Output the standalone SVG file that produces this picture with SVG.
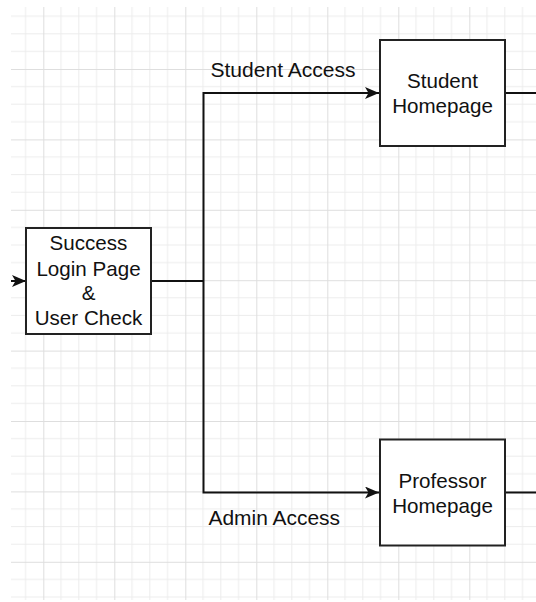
<svg xmlns="http://www.w3.org/2000/svg" width="536" height="602" viewBox="0 0 536 602">
<style>
.box{fill:#fff;stroke:#222;stroke-width:2}
.t{font-family:"Liberation Sans",Arial,sans-serif;font-size:20.6px;fill:#111;text-anchor:middle}
.lbl{font-family:"Liberation Sans",Arial,sans-serif;font-size:20.5px;fill:#111}
.c{fill:none;stroke:#111;stroke-width:2}
.mi{stroke:#ececec;stroke-width:1}
.ma{stroke:#dedede;stroke-width:1}
</style>
<defs>
<pattern id="grid" patternUnits="userSpaceOnUse" x="43.3" y="69" width="71" height="70.4">
<line class="mi" x1="17.75" y1="0" x2="17.75" y2="70.4"/>
<line class="mi" x1="35.5" y1="0" x2="35.5" y2="70.4"/>
<line class="mi" x1="53.25" y1="0" x2="53.25" y2="70.4"/>
<line class="mi" x1="0" y1="17.6" x2="71" y2="17.6"/>
<line class="mi" x1="0" y1="35.2" x2="71" y2="35.2"/>
<line class="mi" x1="0" y1="52.8" x2="71" y2="52.8"/>
<line class="ma" x1="0.5" y1="0" x2="0.5" y2="70.4"/>
<line class="ma" x1="0" y1="0.5" x2="71" y2="0.5"/>
</pattern>
<marker id="arr" viewBox="0 0 14 12" refX="14" refY="6" markerWidth="14" markerHeight="12" markerUnits="userSpaceOnUse" orient="auto">
<path d="M0,0 L14,6 L0,12 L3.5,6 Z" fill="#111"/>
</marker>
</defs>
<rect x="0" y="0" width="536" height="602" fill="#fff"/>
<rect x="11" y="7" width="525" height="593" fill="url(#grid)"/>
<g id="connectors">
<line class="c" x1="11" y1="281" x2="26" y2="281" marker-end="url(#arr)"/>
<polyline class="c" points="151,281 203.5,281"/>
<polyline class="c" points="203.5,281 203.5,93 379,93" marker-end="url(#arr)"/>
<polyline class="c" points="203.5,281 203.5,492.5 379,492.5" marker-end="url(#arr)"/>
<line class="c" x1="505" y1="93" x2="536" y2="93"/>
<line class="c" x1="505" y1="492.5" x2="536" y2="492.5"/>
<text class="lbl" x="210.5" y="76.5" textLength="145" lengthAdjust="spacingAndGlyphs">Student Access</text>
<text class="lbl" x="208.5" y="525" textLength="131.5" lengthAdjust="spacingAndGlyphs">Admin Access</text>
</g>
<g id="success">
<rect class="box" x="26" y="228" width="125" height="106"/>
<text class="t" x="88.5" y="250">Success</text>
<text class="t" x="88.5" y="275.5">Login Page</text>
<text class="t" x="88.5" y="300">&amp;</text>
<text class="t" x="88.5" y="325">User Check</text>
</g>
<g id="student">
<rect class="box" x="380" y="40" width="125" height="106"/>
<text class="t" x="442.5" y="87.5">Student</text>
<text class="t" x="442.5" y="112.5">Homepage</text>
</g>
<g id="professor">
<rect class="box" x="380" y="439.5" width="125" height="106"/>
<text class="t" x="442.5" y="487.5">Professor</text>
<text class="t" x="442.5" y="512.5">Homepage</text>
</g>
</svg>
